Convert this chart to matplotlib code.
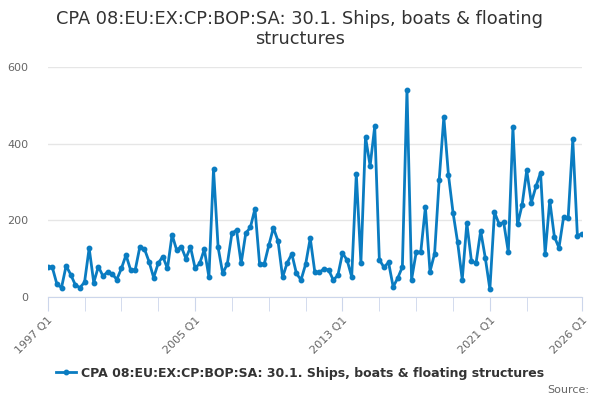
import matplotlib.pyplot as plt
from matplotlib.lines import Line2D

# quarterly values, 1997 Q1 .. 2026 Q1
quarters = [f"{y} Q{q}" for y in range(1997, 2027) for q in range(1, 5)][:117]
values = [
    79, 77, 33, 24, 81, 58, 31, 24, 38, 127,
    37, 79, 54, 65, 60, 45, 74, 109, 70, 70,
    130, 125, 92, 50, 88, 105, 74, 162, 122, 131,
    100, 130, 75, 87, 124, 52, 333, 129, 61, 86,
    166, 174, 87, 166, 181, 230, 86, 85, 134, 180,
    146, 51, 89, 112, 61, 44, 85, 153, 64, 64,
    73, 70, 44, 56, 114, 96, 52, 321, 89, 417,
    342, 445, 97, 77, 90, 26, 49, 78, 541, 45,
    116, 117, 234, 66, 113, 306, 469, 319, 220, 142,
    45, 192, 93, 88, 172, 102, 20, 221, 190, 194,
    117, 443, 189, 240, 330, 246, 288, 324, 113, 251,
    157, 128, 208, 207, 411, 159, 165,
]
series_name = "CPA 08:EU:EX:CP:BOP:SA: 30.1. Ships, boats & floating structures"
title = "CPA 08:EU:EX:CP:BOP:SA: 30.1. Ships, boats & floating\nstructures"
label_idx = [0, 32, 64, 96, 116]
minor_idx = list(range(0, 105, 8)) + [116]

color = '#0a7cc1'
fig = plt.figure(figsize=(6, 4), dpi=100, facecolor='white')
ax = fig.add_axes([0.0795, 0.258, 0.8905, 0.5745])
x = list(range(len(values)))
ax.plot(x, values, color=color, lw=2, marker='o', markersize=3.2, zorder=3)

ax.set_xlim(0, 116)
ax.set_ylim(0, 600)
ax.set_yticks([0, 200, 400, 600])
ax.grid(axis='y', color='#e6e6e6', lw=1)
ax.set_axisbelow(True)
for s in ['top', 'right', 'left']:
    ax.spines[s].set_visible(False)
ax.spines['bottom'].set_color('#ccd6eb')
ax.tick_params(axis='y', length=0, labelsize=8, labelcolor='#666666', pad=14)

ax.set_xticks(minor_idx, minor=True)
ax.set_xticks(label_idx)
ax.set_xticklabels([quarters[i] for i in label_idx], rotation=45, ha='right',
                   rotation_mode='anchor', fontsize=8, color='#666666')
ax.tick_params(axis='x', which='both', length=10, color='#ccd6eb', pad=3)

fig.text(0.5, 0.975, title, ha='center', va='top', fontsize=12.8, color='#333333',
         linespacing=1.15)

h = Line2D([], [], color=color, lw=2, marker='o', markersize=3.2)
fig.legend([h], [series_name], loc='center', bbox_to_anchor=(0.5, 0.067),
           frameon=False, handlelength=1.6, handletextpad=0.4,
           prop={'size': 9, 'weight': 'bold'}, labelcolor='#333333')
fig.text(0.982, 0.025, "Source:", ha='right', va='center', fontsize=8, color='#666666')

fig.savefig('out.png', dpi=100, facecolor='white')
